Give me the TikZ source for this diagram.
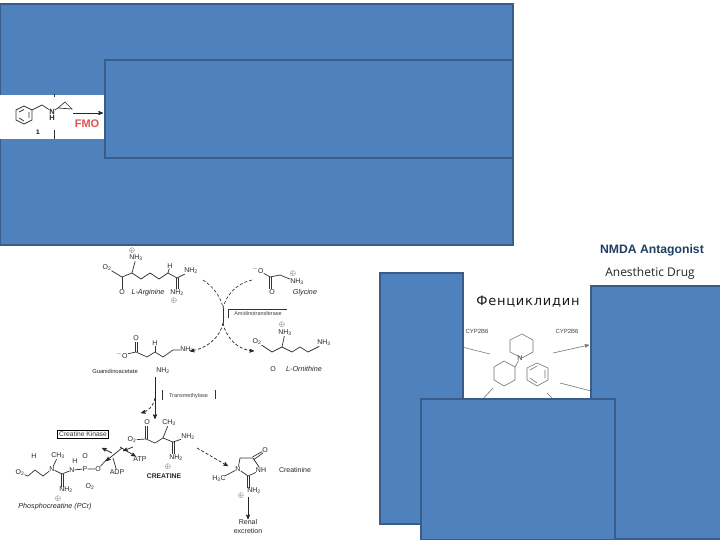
\documentclass[tikz,border=0pt]{standalone}
\usepackage{fontspec}
\setmainfont{Liberation Sans}
\newfontfamily\cyrfont[LetterSpace=6]{DejaVu Sans}
\newfontfamily\drugfont{Open Sans}
\usetikzlibrary{arrows,positioning}
\definecolor{slideblue}{HTML}{4F81BD}
\definecolor{slideedge}{HTML}{385D8A}
\definecolor{titlenavy}{HTML}{1F3F63}
\definecolor{fmored}{HTML}{E0524F}
\tikzset{
  cover/.style={fill=slideblue,draw=slideedge,line width=1.6pt},
  bond/.style={draw=black!80,line width=0.7pt},
  ringbond/.style={draw=black!55,line width=0.6pt},
  react/.style={draw=black!85,line width=0.7pt,->,>=stealth'},
  curved/.style={draw=black!85,line width=0.6pt,densely dashed},
  chem/.style={inner sep=0pt,font=\fontsize{7}{8}\selectfont,text=black!85},
  chemit/.style={chem,font=\fontsize{7.2}{8}\selectfont\itshape},
  tag/.style={inner sep=0pt,font=\fontsize{5.5}{6}\selectfont,text=black!75}
}
\begin{document}
\begin{tikzpicture}[x=1pt,y=-1pt]
\useasboundingbox (0,0) rectangle (720,540);
\fill[white] (0,0) rectangle (720,540);

% top slide: big covers and the strip between them
\draw[cover] (0.5,4) rectangle (513,245);
\fill[white] (0,95) rectangle (105,139.5);
\draw[bond] (16,110) -- (24,106) -- (32,110) -- (32,120) -- (24,124) -- (16,120) -- cycle;
\draw[bond] (19,112) -- (24,109.5) (29,112) -- (29,118) (19,118) -- (24,121);
\node[chem,font=\fontsize{7.5}{8}\selectfont\bfseries] (amine) at (52,111.5) {N};
\node[chem,font=\fontsize{7.5}{8}\selectfont\bfseries] (amineh) at (52,118) {H};
\coordinate (ringtop) at (65,102);
\draw[bond] (32,110) -- (42,105) -- (amine);
\draw[bond] (amine) -- (58,108) -- (ringtop) -- (72,109) -- (58,108);
\draw[bond] (54,94) -- (54,97) (54,130) -- (54,139);
\coordinate (fmostart) at (73,113);
\coordinate (fmoend) at (103,113);
\draw[react] (fmostart) -- (fmoend);
\node[inner sep=0pt,font=\fontsize{11}{12}\selectfont\bfseries,text=fmored] (fmo) at (87,124) {FMO};
\node[inner sep=0pt,font=\fontsize{6.5}{7}\selectfont\bfseries] (one) at (38,132) {1};
\draw[cover] (105,60) rectangle (513,158);

% L-arginine
\node[chem] (argnh) at (136,258) {NH\textsubscript{3}};
\node[chem] at (132,250.5) (argplus) {$\oplus$};
\node[chem] (argo) at (107,268) {O\textsubscript{2}};
\node[chem] (argol) at (122,292) {O};
\node[chem] (argnha) at (191,271) {NH\textsubscript{2}};
\node[chem] (argnhb) at (177,293) {NH\textsubscript{2}};
\node[chem] (argh) at (170,266) {H};
\node[chem] at (174,301) (argplusb) {$\oplus$};
\node[chemit] (arglab) at (148,293) {L-Arginine};
\draw[bond] (argo) -- (122,277) -- (132,273) -- (141,279) -- (150,273) -- (159,279) -- (168,273) -- (177,278) -- (argnha);
\draw[bond] (132,273) -- (argnh);
\draw[bond] (122,277) -- (argol);
\draw[bond] (argh) -- (168,273);
\draw[bond] (176,278) -- (176,289) (178,278) -- (178,289);

% glycine
\node[chem] (glyo) at (258,270) {$^-$O};
\node[chem] (glyol) at (272,292) {O};
\node[chem] (glynh) at (297,282) {NH\textsubscript{3}};
\node[chem] at (293,273.5) (glyplus) {$\oplus$};
\node[chemit] (glylab) at (305,293) {Glycine};
\draw[bond] (glyo) -- (270,277) -- (280,275) -- (glynh);
\draw[bond] (269.5,277) -- (269.5,289) (271.5,277) -- (271.5,289);

% amidinotransferase step
\coordinate (fromarg) at (203,280);
\coordinate (fromgly) at (252,280);
\coordinate (crossa) at (223,308);
\coordinate (crossb) at (223,323);
\coordinate (toguan) at (190,351);
\coordinate (toorn) at (254,351);
\draw[curved] (fromarg) .. controls (215,288) and (221,298) .. (crossa);
\draw[curved] (fromgly) .. controls (235,284) and (226,296) .. (crossa);
\draw[bond,line width=0.8pt] (crossa) -- (crossb);
\draw[react,densely dashed] (crossb) .. controls (220,338) and (206,349) .. (toguan);
\draw[react,densely dashed] (crossb) .. controls (226,338) and (238,350) .. (toorn);
\draw[bond] (228,318) -- (228,309.5) -- (287,309.5);
\node[tag] (amidino) at (258,314) {Amidinotransferase};

% guanidinoacetate
\node[chem] (guano) at (122,355) {$^-$O};
\node[chem] (guanol) at (136,338) {O};
\node[chem] (guanh) at (155,343) {H};
\node[chem] (guannh) at (187,350) {NH\textsubscript{2}};
\node[chem] (guannhb) at (163,371) {NH\textsubscript{2}};
\node[chem,font=\fontsize{5.8}{6}\selectfont] (guanlab) at (115,371) {Guanidinoacetate};
\draw[bond] (guano) -- (136,352) -- (147,357) -- (155,352) -- (163,357) -- (173,350) -- (guannh);
\draw[bond] (135,352) -- (135,342) (137,352) -- (137,342);
\draw[bond] (guanh) -- (155,352);

% L-ornithine
\node[chem] (orno) at (257,342) {O\textsubscript{2}};
\node[chem] (ornnh) at (285,333) {NH\textsubscript{3}};
\node[chem] at (282,325) (ornplus) {$\oplus$};
\node[chem] (ornnhb) at (324,343) {NH\textsubscript{3}};
\node[chem] (ornol) at (273,369) {O};
\node[chemit] (ornlab) at (304,369) {L-Ornithine};
\draw[bond] (orno) -- (272,352) -- (282,347) -- (292,352) -- (300,347) -- (308,352) -- (318,347) -- (ornnhb);
\draw[bond] (282,347) -- (ornnh);

% transmethylase step
\coordinate (methtop) at (155,377);
\coordinate (methend) at (155,419);
\coordinate (methside) at (141,413);
\draw[react] (methtop) -- (methend);
\draw[react,densely dashed] (155,398) .. controls (153,407) and (148,411) .. (methside);
\draw[bond] (162,390) -- (162,400);
\draw[bond] (215,390) -- (215,399);
\node[tag] (transm) at (188.5,396) {Transmethylase};

% creatine
\node[chem] (creo) at (147,422) {O};
\node[chem] (creoa) at (132,440) {O\textsubscript{2}};
\node[chem] (crech) at (169,423) {CH\textsubscript{3}};
\node[chem] (crenh) at (188,437) {NH\textsubscript{2}};
\node[chem] (crenhb) at (176,458) {NH\textsubscript{2}};
\node[chem] at (168,466.5) (creplus) {$\oplus$};
\node[chem,font=\fontsize{6.8}{7}\selectfont\bfseries] (crelab) at (164,476) {CREATINE};
\draw[bond] (creoa) -- (146,439) -- (155,443) -- (163,438) -- (173,442) -- (crenh);
\draw[bond] (145.5,426) -- (145.5,439) (147.5,426) -- (147.5,439);
\draw[bond] (163,438) -- (crech);
\draw[bond] (172,442) -- (172,454) (174,442) -- (174,454);

% creatine kinase step
\node[draw=black,line width=0.6pt,inner sep=1.5pt,font=\fontsize{6.7}{7}\selectfont,text=black!80] (kinase) at (83,434.5) {Creatine Kinase};
\node[chem] (atp) at (140,459) {ATP};
\node[chem] (adp) at (117,472) {ADP};
\coordinate (kinin) at (102,448);
\draw[react] (112,453) -- (kinin);
\draw[react] (122,448) -- (106,461);
\draw[react] (120,447) -- (atp);
\draw[react] (133,447) -- (123,451);
\draw[bond] (113,458) -- (adp);

% phosphocreatine
\node[chem] (pcro) at (20,473) {O\textsubscript{2}};
\node[chem] (pcrn) at (52,469) {N};
\node[chem] (pcrch) at (58,456) {CH\textsubscript{3}};
\node[chem] (pcrh) at (34,456) {H};
\node[chem] (pcrnh) at (66,490) {NH\textsubscript{2}};
\node[chem] (pcrol) at (58,498.5) {$\oplus$};
\node[chem] (pcrna) at (72,470) {N};
\node[chem] (pcrhb) at (75,461) {H};
\node[chem] (pcrp) at (85,469) {P};
\node[chem] (pcrob) at (85,456) {O};
\node[chem] (pcroc) at (98,469) {O};
\node[chem] (pcrod) at (90,487) {O\textsubscript{2}};
\node[chemit] (pcrlab) at (55,507) {Phosphocreatine (PCr)};
\draw[bond] (pcro) -- (28,476) -- (35,470) -- (43,476) -- (pcrn) -- (62,474) -- (pcrna) -- (pcrp) -- (pcroc) -- (108,458);
\draw[bond] (pcrn) -- (pcrch);
\draw[bond] (61,474) -- (61,487) (63,474) -- (63,487);

% creatinine
\node[chem] (crnn) at (238,469) {N};
\node[chem] (crnnh) at (261,470) {NH};
\node[chem] (crno) at (265,450) {O};
\node[chem] (crnch) at (219,479) {H\textsubscript{3}C};
\node[chem] (crnnha) at (254,491) {NH\textsubscript{2}};
\node[chem] at (241,496) (crnplus) {$\oplus$};
\node[chem] (crnlab) at (295,470) {Creatinine};
\node[chem] (renal) at (248,522) {Renal};
\node[chem] (excr) at (248,531) {excretion};
\draw[bond] (crnn) -- (240,458) -- (253,458) -- (crnnh) -- (248,476) -- (crnn);
\draw[bond] (252.5,457) -- (crno) (254,459.5) -- (263,453);
\draw[bond] (crnch) -- (crnn);
\draw[bond] (247,476) -- (247,488) (249,476) -- (249,488);
\coordinate (crnstart) at (197,448);
\coordinate (crnend) at (228,466);
\draw[react,densely dashed] (crnstart) -- (crnend);
\coordinate (renstart) at (248,497);
\draw[react] (renstart) -- (renal);

% right hand labels
\node[inner sep=0pt,font=\fontsize{12.2}{13}\selectfont\bfseries,text=titlenavy] (nmda) at (652,250) {NMDA Antagonist};
\node[inner sep=0pt,font=\fontsize{12}{14}\selectfont\drugfont,text=black!85] (drug) at (650,273) {Anesthetic Drug};

% phencyclidine picture
\fill[white] (463,287) rectangle (591,399);
\node[inner sep=0pt,font=\fontsize{13}{15}\selectfont\cyrfont,text=black!90] (pcp) at (528,302) {Фенциклидин};
\node[tag,font=\fontsize{6}{7}\selectfont] (cypl) at (477,331) {CYP2B6};
\node[tag,font=\fontsize{6}{7}\selectfont] (cypr) at (567,331) {CYP2B6};
\node[chem] (pcpn) at (520,358) {N};
\draw[ringbond] (510,340) -- (522,334) -- (533,340) -- (533,352) -- (522,358) -- (510,352) -- cycle;
\draw[ringbond] (494,367) -- (504,361) -- (515,367) -- (515,380) -- (504,386) -- (494,380) -- cycle;
\draw[ringbond] (527,368) -- (537,363) -- (548,368) -- (548,380) -- (537,386) -- (527,380) -- cycle;
\draw[ringbond] (530,370) -- (537,366) (545,370) -- (545,378) (530,378) -- (537,383);
\draw[ringbond] (515,367) -- (pcpn);
\coordinate (leftin) at (490,354);
\coordinate (rightout) at (589,345);
\draw[ringbond] (458,346) -- (leftin);
\draw[ringbond,->,>=stealth'] (553,353) -- (rightout);
\draw[ringbond] (560,383) -- (595,392);
\draw[ringbond] (493,388) -- (482,400);
\draw[ringbond] (547,393) -- (555,401);

% lower covers
\draw[cover] (380,273) rectangle (463,524);
\fill[slideblue] (591,286) rectangle (720,539);
\draw[slideedge,line width=1.6pt] (720,286) -- (591,286) -- (591,399);
\draw[slideedge,line width=1.2pt] (591,539) -- (720,539);
\draw[cover] (421,399) rectangle (615,539.5);
\end{tikzpicture}
\end{document}
